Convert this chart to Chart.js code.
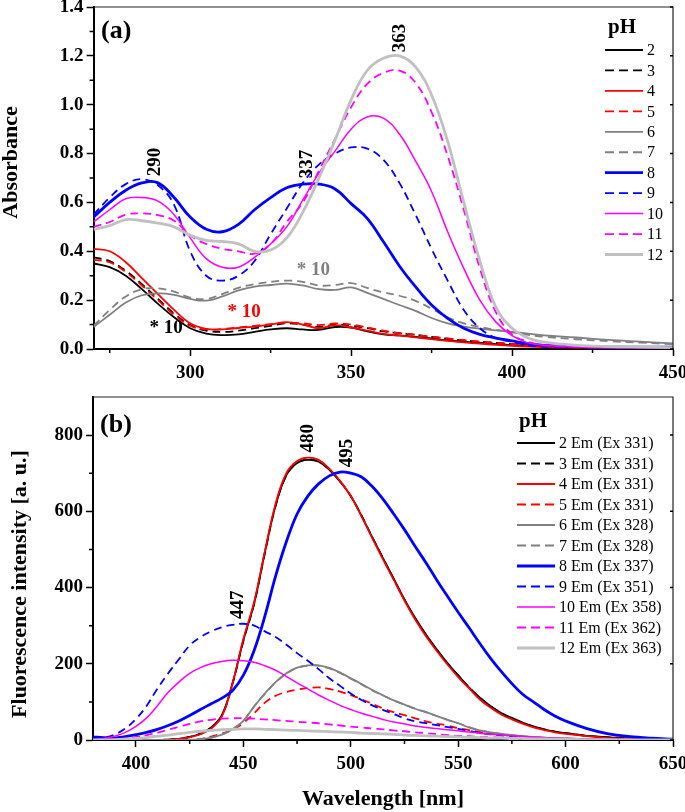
<!DOCTYPE html>
<html>
<head>
<meta charset="utf-8">
<title>Absorbance and fluorescence vs pH</title>
<script src="https://cdn.jsdelivr.net/npm/chart.js@4.4.0/dist/chart.umd.min.js"></script>
<style>
  body { margin: 0; background: #fff; }
  #wrap { position: relative; width: 685px; height: 812px; }
  #absChart { position: absolute; left: 0; top: 0; }
  #fluoChart { position: absolute; left: 0; top: 385px; }
</style>
</head>
<body>
<div id="wrap">
  <canvas id="absChart" width="685" height="385"></canvas>
  <canvas id="fluoChart" width="685" height="427"></canvas>
</div>
<script>
// ---- panel (a): absorbance spectra ----
const wlA = [270,275,280,285,290,295,300,305,310,315,320,325,330,335,340,345,350,355,360,365,370,375,380,385,390,395,400,405,410,420,430,440,450];

const abs2  = [0.35,0.335,0.30,0.245,0.185,0.13,0.085,0.063,0.057,0.06,0.07,0.08,0.085,0.08,0.078,0.09,0.088,0.072,0.06,0.056,0.05,0.043,0.035,0.03,0.025,0.02,0.016,0.013,0.01,0.008,0.006,0.005,0.005];
const abs3  = [0.375,0.36,0.32,0.265,0.205,0.145,0.098,0.075,0.07,0.075,0.085,0.095,0.105,0.1,0.09,0.1,0.095,0.085,0.072,0.065,0.058,0.05,0.042,0.035,0.03,0.025,0.02,0.016,0.012,0.008,0.006,0.006,0.006];
const abs4  = [0.41,0.40,0.355,0.29,0.225,0.16,0.105,0.082,0.08,0.086,0.092,0.1,0.11,0.1,0.085,0.098,0.088,0.075,0.062,0.055,0.048,0.04,0.033,0.027,0.022,0.017,0.013,0.01,0.008,0.006,0.005,0.005,0.005];
const abs5  = [0.365,0.355,0.315,0.26,0.2,0.14,0.095,0.08,0.082,0.088,0.095,0.102,0.108,0.105,0.098,0.105,0.1,0.088,0.075,0.065,0.058,0.05,0.043,0.036,0.03,0.025,0.02,0.015,0.01,0.007,0.005,0.005,0.005];
const abs6  = [0.09,0.14,0.19,0.22,0.228,0.222,0.205,0.198,0.215,0.24,0.255,0.262,0.268,0.26,0.245,0.242,0.252,0.23,0.205,0.18,0.156,0.127,0.105,0.092,0.083,0.076,0.07,0.063,0.056,0.047,0.037,0.03,0.023];
const abs7  = [0.095,0.16,0.215,0.245,0.248,0.235,0.21,0.205,0.225,0.25,0.265,0.275,0.28,0.275,0.26,0.262,0.27,0.25,0.232,0.218,0.197,0.165,0.13,0.105,0.09,0.078,0.068,0.058,0.05,0.04,0.032,0.026,0.02];
const abs8  = [0.54,0.60,0.65,0.68,0.68,0.62,0.54,0.49,0.48,0.51,0.57,0.62,0.66,0.675,0.675,0.655,0.595,0.535,0.44,0.34,0.255,0.18,0.125,0.085,0.06,0.045,0.033,0.022,0.015,0.01,0.008,0.008,0.008];
const abs9  = [0.55,0.62,0.675,0.695,0.67,0.59,0.40,0.30,0.28,0.30,0.36,0.47,0.575,0.68,0.755,0.80,0.825,0.82,0.775,0.68,0.55,0.41,0.28,0.16,0.085,0.045,0.03,0.015,0.01,0.008,0.006,0.005,0.005];
const abs10 = [0.52,0.57,0.615,0.62,0.605,0.55,0.455,0.37,0.335,0.335,0.375,0.43,0.50,0.61,0.72,0.81,0.90,0.95,0.945,0.88,0.77,0.645,0.48,0.33,0.20,0.11,0.055,0.025,0.015,0.008,0.005,0.005,0.005];
const abs11 = [0.50,0.52,0.55,0.555,0.548,0.525,0.465,0.43,0.41,0.40,0.39,0.43,0.52,0.60,0.73,0.86,0.99,1.085,1.13,1.14,1.09,0.97,0.79,0.57,0.33,0.15,0.06,0.03,0.015,0.01,0.008,0.006,0.006];
const abs12 = [0.49,0.505,0.53,0.525,0.515,0.50,0.465,0.445,0.44,0.43,0.40,0.405,0.455,0.56,0.70,0.855,1.02,1.14,1.19,1.20,1.155,1.04,0.85,0.60,0.36,0.17,0.085,0.045,0.028,0.015,0.01,0.008,0.006];

const ticksAx = [300, 350, 400, 450];
const ticksAy = [0, 0.2, 0.4, 0.6, 0.8, 1.0, 1.2, 1.4];
const phLabels = ['2','3','4','5','6','7','8','9','10','11','12'];

// ---- panel (b): emission spectra ----
const wlB = [380,385,390,395,400,405,410,415,420,425,430,435,440,445,450,455,460,465,470,475,480,485,490,495,500,505,510,515,520,525,530,535,540,545,550,555,560,565,570,575,580,585,590,595,600,610,620,630,640,650];

const em2  = [0,0,0,0,0,0,0,1,3,8,17,33,65,150,262,358,492,615,695,727,735,730,709,678,640,588,532,477,423,369,320,277,238,202,170,138,112,89,71,58,46,36,28,22,18,11,7,4,2,0];
const em3  = [0,0,0,0,0,0,0,1,3,8,16,32,64,148,260,357,490,614,694,727,736,731,710,679,640,589,532,477,422,368,319,276,237,201,169,139,111,89,71,57,45,36,28,22,18,11,7,4,2,0];
const em4  = [0,0,0,0,0,0,0,1,3,7,15,30,62,150,265,362,495,620,700,732,741,735,712,680,640,587,530,474,420,366,316,272,234,198,165,136,107,85,67,54,43,33,26,20,16,10,5,3,1,0];
const em5  = [0,0,0,0,0,0,0,0,0,0,3,9,17,27,45,70,98,116,126,132,136,138,134,127,118,107,95,83,73,65,57,49,43,38,31,26,21,17,14,11,9,7,6,5,4,2,1,1,0,0];
const em6  = [0,0,0,0,0,0,0,0,0,0,2,6,14,28,50,88,122,152,175,190,196,196,189,177,162,147,131,117,104,93,82,73,63,53,44,33,25,20,16,13,10,8,6,5,4,2,1,1,0,0];
const em7  = [0,0,0,0,0,0,0,0,0,0,2,6,14,29,51,88,121,151,174,189,195,195,188,176,161,146,130,117,104,93,82,73,63,53,44,34,26,20,16,13,10,8,6,5,4,2,1,1,0,0];
const em8  = [8,6,5,9,14,20,28,38,50,64,80,95,110,130,170,235,325,430,520,593,640,672,693,703,700,690,665,632,593,552,508,465,420,377,335,295,254,215,180,148,120,100,80,63,50,30,16,9,5,2];
const em9  = [3,6,14,30,55,90,135,175,212,248,270,285,296,302,305,300,285,270,250,228,208,186,162,142,122,105,91,79,68,57,49,44,39,34,29,24,19,15,12,10,7,6,4,3,2,1,1,0,0,0];
const em10 = [1,4,10,20,36,58,90,125,152,175,190,200,206,209,208,204,195,183,167,150,134,118,104,91,80,70,62,54,47,42,37,33,30,27,24,21,18,15,13,11,9,8,6,5,4,3,2,1,0,0];
const em11 = [0,1,2,4,8,13,19,27,35,42,49,53,56,57,57,56,54,52,50,48,46,44,41,38,35,33,30,28,25,23,20,18,15,13,11,10,8,7,6,5,4,3,3,2,2,1,1,0,0,0];
const em12 = [0,0,1,2,4,7,10,13,17,20,23,25,27,28,29,29,28,27,26,25,24,23,22,21,20,18,17,16,15,13,12,11,10,9,8,7,6,5,5,4,4,3,3,2,2,1,1,0,0,0];

const ticksBx = [400, 450, 500, 550, 600, 650];
const ticksBy = [0, 200, 400, 600, 800];
const emLabels = ['2 Em (Ex 331)','3 Em (Ex 331)','4 Em (Ex 331)','5 Em (Ex 331)','6 Em (Ex 328)','7 Em (Ex 328)',
                  '8 Em (Ex 337)','9 Em (Ex 351)','10 Em (Ex 358)','11 Em (Ex 362)','12 Em (Ex 363)'];

// line styles, one per pH (same in both panels)
const lineColors = ['#000000','#000000','#ff0000','#ff0000','#808080','#808080','#0000ff','#0000ff','#ff00ff','#ff00ff','#c0c0c0'];
const lineDashed = [false,true,false,true,false,true,false,true,false,true,false];
const lineWidths = [1.8,1.8,1.8,1.8,1.8,1.8,2.8,1.8,1.5,1.8,2.8];

const SERIF = "'Liberation Serif', 'Times New Roman', serif";
Chart.defaults.font.family = SERIF;
Chart.defaults.color = '#000';

function makeSets(xs, series, labels) {
  return series.map(function (ys, i) {
    return {
      label: labels[i],
      data: xs.map(function (x, j) { return { x: x, y: ys[j] }; }),
      borderColor: lineColors[i],
      borderWidth: lineWidths[i],
      borderDash: lineDashed[i] ? [8, 5] : [],
      pointRadius: 0,
      tension: 0.4,
      order: series.length - i   // later pH drawn on top
    };
  });
}

function axis(min, max, ticks, size, horizontal, fmt) {
  return {
    type: 'linear',
    min: min,
    max: max,
    afterBuildTicks: function (s) { s.ticks = ticks.map(function (v) { return { value: v }; }); },
    afterFit: function (s) {
      if (horizontal) { s.height = size; s.paddingLeft = 0; s.paddingRight = 0; }
      else { s.width = size; s.paddingTop = 0; s.paddingBottom = 0; }
    },
    grid: { drawOnChartArea: false, tickLength: 7, tickWidth: 1.5, tickColor: '#000' },
    border: { color: '#000', width: 2 },
    ticks: {
      font: { size: 19, weight: 'bold' },
      padding: horizontal ? 6 : 3,
      autoSkip: false,
      maxRotation: 0,
      callback: fmt
    }
  };
}

// frame, minor ticks, annotations, legend and axis titles
function makeDecor(cfg) {
  return {
    id: 'decor',
    afterDraw: function (chart) {
      const ctx = chart.ctx;
      const a = chart.chartArea;
      const sx = chart.scales.x;
      const sy = chart.scales.y;
      ctx.save();

      ctx.strokeStyle = '#222';
      ctx.lineWidth = 1.2;
      ctx.beginPath();
      ctx.moveTo(a.left, a.top);
      ctx.lineTo(a.right, a.top);
      ctx.lineTo(a.right, a.bottom);
      ctx.stroke();

      ctx.strokeStyle = '#000';
      ctx.lineWidth = 1.5;
      ctx.beginPath();
      cfg.minorX.forEach(function (v) {
        const px = sx.getPixelForValue(v);
        ctx.moveTo(px, a.bottom);
        ctx.lineTo(px, a.bottom + 4);
      });
      cfg.minorY.forEach(function (v) {
        const py = sy.getPixelForValue(v);
        ctx.moveTo(a.left, py);
        ctx.lineTo(a.left - 4, py);
      });
      sy.ticks.forEach(function (t) {
        const py = sy.getPixelForValue(t.value);
        ctx.moveTo(a.right, py);
        ctx.lineTo(a.right - 3, py);
      });
      ctx.stroke();

      ctx.textAlign = 'center';
      ctx.textBaseline = 'middle';
      cfg.notes.forEach(function (n) {
        ctx.font = 'bold ' + (n.size || 19) + 'px ' + SERIF;
        ctx.fillStyle = n.color || '#000';
        ctx.save();
        ctx.translate(sx.getPixelForValue(n.x), sy.getPixelForValue(n.y));
        if (n.rot) ctx.rotate(-Math.PI / 2);
        ctx.fillText(n.text, 0, 0);
        ctx.restore();
      });

      const lg = cfg.legend;
      ctx.fillStyle = '#000';
      ctx.font = 'bold 21px ' + SERIF;
      ctx.fillText(lg.title, lg.titleX, lg.titleY);
      ctx.font = '16px ' + SERIF;
      ctx.textAlign = 'left';
      chart.data.datasets.forEach(function (ds, i) {
        const y = lg.y0 + i * lg.dy;
        ctx.strokeStyle = ds.borderColor;
        ctx.lineWidth = ds.borderWidth;
        ctx.setLineDash(ds.borderDash.length ? [9, 5] : []);
        ctx.beginPath();
        ctx.moveTo(lg.x0, y);
        ctx.lineTo(lg.x1, y);
        ctx.stroke();
        ctx.setLineDash([]);
        ctx.fillText(ds.label, lg.tx, y + 1);
      });

      ctx.font = 'bold 22px ' + SERIF;
      ctx.textAlign = 'center';
      ctx.textBaseline = 'alphabetic';
      cfg.titles.forEach(function (t) {
        ctx.save();
        ctx.translate(t.x, t.y);
        if (t.rot) ctx.rotate(-Math.PI / 2);
        ctx.fillText(t.text, 0, 0);
        ctx.restore();
      });
      ctx.restore();
    }
  };
}

function baseOptions(padTop, xAxis, yAxis) {
  return {
    responsive: false,
    animation: false,
    devicePixelRatio: 1,
    layout: { padding: { top: padTop, right: 12, left: 0, bottom: 0 } },
    plugins: { legend: { display: false }, tooltip: { enabled: false } },
    scales: { x: xAxis, y: yAxis }
  };
}

new Chart(document.getElementById('absChart'), {
  type: 'line',
  data: { datasets: makeSets(wlA, [abs2, abs3, abs4, abs5, abs6, abs7, abs8, abs9, abs10, abs11, abs12], phLabels) },
  options: baseOptions(7,
    axis(270, 450, ticksAx, 36, true),
    axis(0, 1.4, ticksAy, 93.6, false, function (v) { return v.toFixed(1); })),
  plugins: [makeDecor({
    minorX: [275, 325, 375, 425],
    minorY: [0.1, 0.3, 0.5, 0.7, 0.9, 1.1, 1.3],
    notes: [
      { text: '(a)', x: 277, y: 1.30, size: 26 },
      { text: '290', x: 289, y: 0.765, rot: true },
      { text: '337', x: 336.4, y: 0.757, rot: true },
      { text: '363', x: 365.3, y: 1.273, rot: true },
      { text: '* 10', x: 292.5, y: 0.086, color: '#000' },
      { text: '* 10', x: 316.8, y: 0.151, color: '#ff0000' },
      { text: '* 10', x: 338.3, y: 0.323, color: '#808080' }
    ],
    legend: { title: 'pH', titleX: 622, titleY: 28, x0: 605, x1: 643, tx: 647, y0: 50, dy: 20.45 },
    titles: [{ text: 'Absorbance', x: 17, y: 162.5, rot: true }]
  })]
});

new Chart(document.getElementById('fluoChart'), {
  type: 'line',
  data: { datasets: makeSets(wlB, [em2, em3, em4, em5, em6, em7, em8, em9, em10, em11, em12], emLabels) },
  options: baseOptions(12,
    axis(380, 650, ticksBx, 72, true),
    axis(0, 900, ticksBy, 93, false)),
  plugins: [makeDecor({
    minorX: [425, 475, 525, 575, 625],
    minorY: [100, 300, 500, 700],
    notes: [
      { text: '(b)', x: 390.7, y: 826, size: 26 },
      { text: '480', x: 480.2, y: 792, rot: true },
      { text: '495', x: 498.4, y: 753, rot: true },
      { text: '447', x: 447.6, y: 355, rot: true }
    ],
    legend: { title: 'pH', titleX: 533, titleY: 37, x0: 517, x1: 555, tx: 559, y0: 58, dy: 20.5 },
    titles: [
      { text: 'Fluorescence intensity [a. u.]', x: 26, y: 199, rot: true },
      { text: 'Wavelength [nm]', x: 383, y: 420 }
    ]
  })]
});
</script>
</body>
</html>
